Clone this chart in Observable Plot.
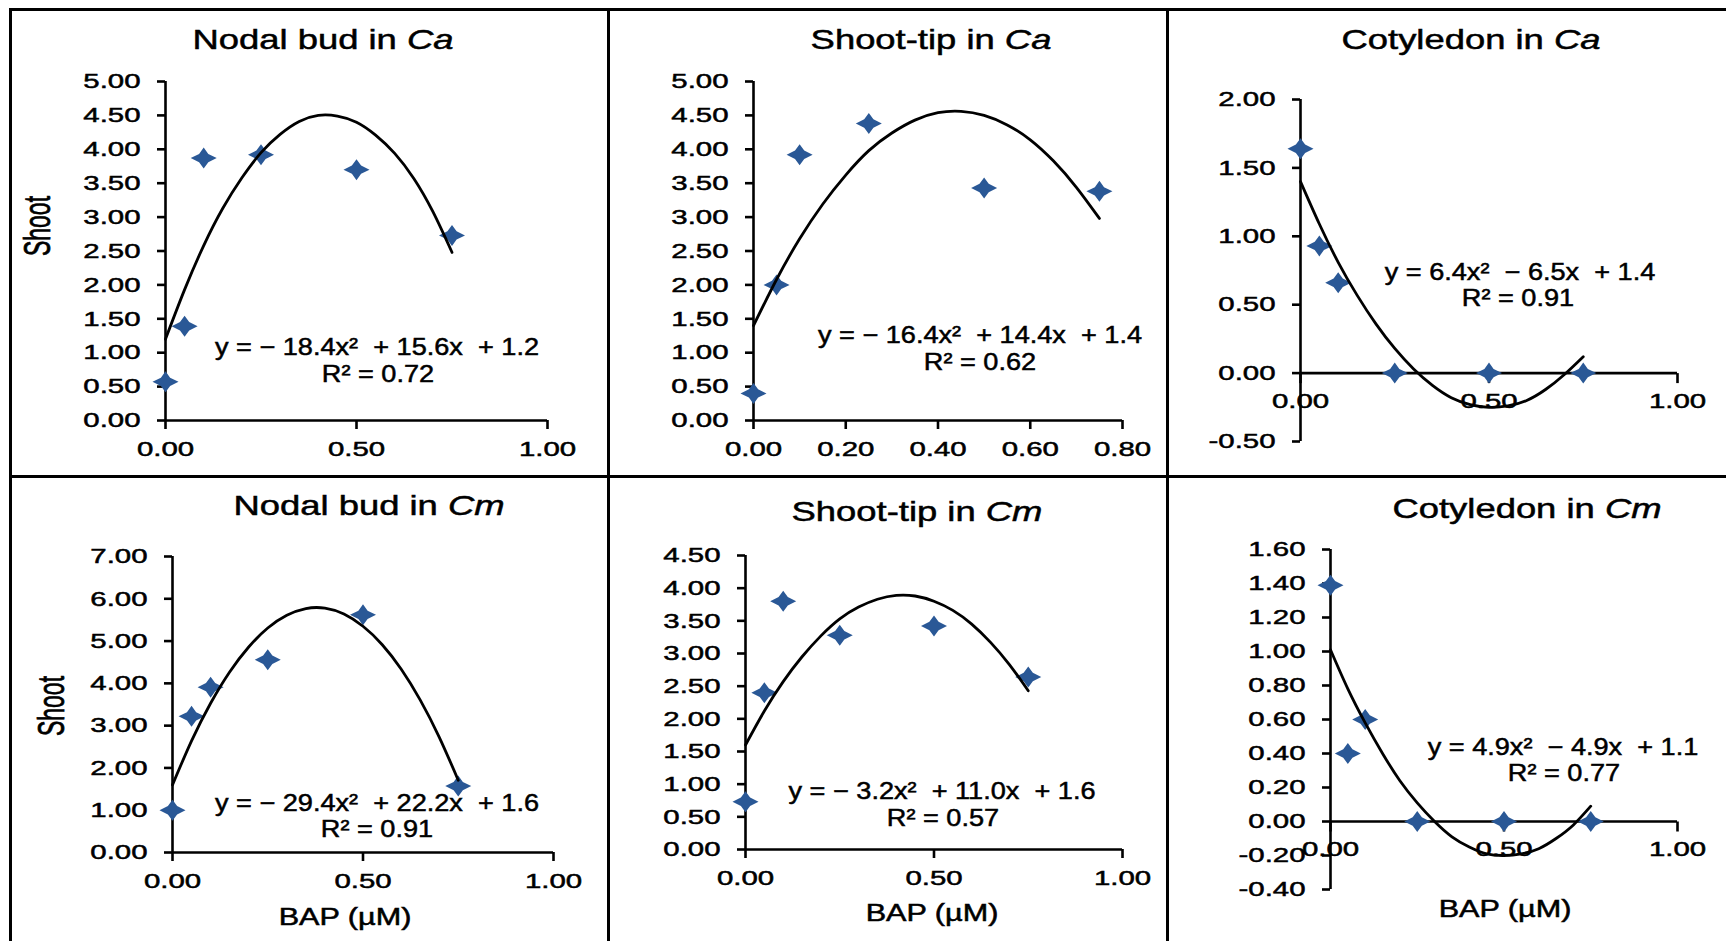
<!DOCTYPE html>
<html>
<head>
<meta charset="utf-8">
<script src="https://cdn.jsdelivr.net/npm/d3@7"></script>
<script src="https://cdn.jsdelivr.net/npm/@observablehq/plot@0.6"></script>
<style>
html, body { margin: 0; padding: 0; background: #fff; }
#root { position: relative; width: 1726px; height: 941px; overflow: hidden; background: #fff;
  font-family: "Liberation Sans", Arial, sans-serif; color: #000; }
.line { position: absolute; background: #000; }
.lbl { position: absolute; white-space: pre; line-height: 1; color: #000; -webkit-text-stroke: 0.5px #000; }
.panel { position: absolute; }
.panel svg { overflow: visible; }
.panel svg text { stroke: #000; stroke-width: 0.5px; paint-order: stroke; }
</style>
</head>
<body>
<div id="root"></div>
<script>
// ---------------- data ----------------
const bapLevels = [0, 0.05, 0.1, 0.25, 0.5, 0.75];

const nodalCa     = [0.57, 1.39, 3.87, 3.92, 3.70, 2.73];
const shootTipCa  = [0.40, 2.00, 3.92, 4.38, 3.43, 3.38];
const cotyledonCa = [1.64, 0.93, 0.66, 0.00, 0.00, 0.00];
const nodalCm     = [1.00, 3.22, 3.91, 4.56, 5.62, 1.57];
const shootTipCm  = [0.73, 2.40, 3.80, 3.28, 3.42, 2.64];
const cotyledonCm = [1.39, 0.40, 0.60, 0.00, 0.00, 0.00];

// trendline (polynomial, order 2)
const trendX = [0, 0.05, 0.1, 0.15, 0.2, 0.25, 0.3, 0.35, 0.4, 0.45, 0.5, 0.55, 0.6, 0.65, 0.7, 0.75];
const trendNodalCa     = [1.20, 1.93, 2.58, 3.13, 3.58, 3.95, 4.22, 4.41, 4.50, 4.49, 4.40, 4.21, 3.94, 3.57, 3.08, 2.48];
const trendShootTipCa  = [1.40, 2.08, 2.68, 3.19, 3.62, 3.98, 4.24, 4.43, 4.54, 4.56, 4.50, 4.36, 4.14, 3.83, 3.44, 2.98];
const trendCotyledonCa = [1.40, 1.09, 0.81, 0.57, 0.36, 0.18, 0.03, -0.09, -0.18, -0.23, -0.25, -0.24, -0.20, -0.12, -0.01, 0.12];
const trendNodalCm     = [1.60, 2.64, 3.53, 4.27, 4.86, 5.31, 5.61, 5.77, 5.78, 5.64, 5.35, 4.92, 4.34, 3.61, 2.73, 1.71];
const trendShootTipCm  = [1.60, 2.12, 2.57, 2.95, 3.27, 3.53, 3.71, 3.83, 3.89, 3.88, 3.80, 3.66, 3.45, 3.17, 2.83, 2.43];
const trendCotyledonCm = [1.01, 0.78, 0.58, 0.40, 0.24, 0.11, 0.00, -0.09, -0.15, -0.19, -0.20, -0.19, -0.16, -0.10, -0.02, 0.09];

// tick values
const xTicksUnit   = [0, 0.5, 1];
const xTicksTenths = [0, 0.2, 0.4, 0.6, 0.8];
const yTicksTo5    = [0, 0.5, 1, 1.5, 2, 2.5, 3, 3.5, 4, 4.5, 5];
const yTicksCotCa  = [-0.5, 0, 0.5, 1, 1.5, 2];
const yTicksTo7    = [0, 1, 2, 3, 4, 5, 6, 7];
const yTicksTo45   = [0, 0.5, 1, 1.5, 2, 2.5, 3, 3.5, 4, 4.5];
const yTicksCotCm  = [-0.4, -0.2, 0, 0.2, 0.4, 0.6, 0.8, 1, 1.2, 1.4, 1.6];

// texts
const explantNames = ["Nodal bud in ", "Shoot-tip in ", "Cotyledon in ", "Nodal bud in ", "Shoot-tip in ", "Cotyledon in "];
const speciesNames = ["Ca", "Ca", "Ca", "Cm", "Cm", "Cm"];
const equationTexts = [
  "y = − 18.4x²  + 15.6x  + 1.2",
  "y = − 16.4x²  + 14.4x  + 1.4",
  "y = 6.4x²  − 6.5x  + 1.4",
  "y = − 29.4x²  + 22.2x  + 1.6",
  "y = − 3.2x²  + 11.0x  + 1.6",
  "y = 4.9x²  − 4.9x  + 1.1"
];
const r2Texts = ["R² = 0.72", "R² = 0.62", "R² = 0.91", "R² = 0.91", "R² = 0.57", "R² = 0.77"];
const yAxisTitle = "Shoot";
const xAxisTitle = "BAP (µM)";

// ---------------- layout ----------------
const root = document.getElementById("root");
const FONT = '"Liberation Sans", Arial, sans-serif';
const MARKER = "#2a5896";
const TICK_STRETCH = 1.4;

function line(x, y, w, h) {
  const d = document.createElement("div");
  d.className = "line";
  Object.assign(d.style, {left: x + "px", top: y + "px", width: w + "px", height: h + "px"});
  root.appendChild(d);
}
function label(html, cx, cy, size, sx, rotate) {
  const d = document.createElement("div");
  d.className = "lbl";
  d.innerHTML = html;
  d.style.left = cx + "px";
  d.style.top = cy + "px";
  d.style.fontSize = size + "px";
  d.style.transform = rotate
    ? `translate(-50%,-50%) rotate(-90deg) scaleY(${sx})`
    : `translate(-50%,-50%) scaleX(${sx})`;
  root.appendChild(d);
}
function stretchTexts(svg, s) {
  svg.querySelectorAll("text").forEach(t => {
    const x = parseFloat(t.getAttribute("x")) || 0;
    const tr = t.getAttribute("transform") || "";
    t.setAttribute("transform", `${tr} translate(${x},0) scale(${s},1) translate(${-x},0)`);
  });
}

// marker: small four-pointed diamond star
const starSymbol = {
  draw(ctx) {
    ctx.moveTo(0, -10.5);
    ctx.lineTo(4.6, -4.2);
    ctx.lineTo(13, 0);
    ctx.lineTo(4.6, 4.2);
    ctx.lineTo(0, 10.5);
    ctx.lineTo(-4.6, 4.2);
    ctx.lineTo(-13, 0);
    ctx.lineTo(-4.6, -4.2);
    ctx.closePath();
  }
};
// short downward tick for an axis crossing at y = 0
const downTick = {
  draw(ctx) { ctx.moveTo(0, 0); ctx.lineTo(0, 10); }
};

const fmt = d3.format(".2f");
const fmtMinus = d => fmt(d).replace("−", "-");

const panels = [
  {cell: [12, 11, 595, 464], m: [70, 60, 55, 153], xd: [0, 1],   xt: xTicksUnit,   yd: [0, 5],     yt: yTicksTo5,   v: nodalCa,     tr: trendNodalCa,     cross: false,
   title: [323, 40], eq: [377, 347], r2: [378, 374], yTitle: [38, 226], xTitle: null},
  {cell: [610, 11, 556, 464], m: [70, 44, 55, 143], xd: [0, 0.8], xt: xTicksTenths, yd: [0, 5],     yt: yTicksTo5,   v: shootTipCa,  tr: trendShootTipCa,  cross: false,
   title: [931, 40], eq: [980, 335], r2: [980, 362], yTitle: null, xTitle: null},
  {cell: [1169, 11, 557, 464], m: [88, 49, 34, 131], xd: [0, 1],  xt: xTicksUnit,   yd: [-0.5, 2],  yt: yTicksCotCa, v: cotyledonCa, tr: trendCotyledonCa, cross: true,
   title: [1471, 40], eq: [1520, 272], r2: [1518, 298], yTitle: null, xTitle: null},
  {cell: [12, 478, 595, 463], m: [78, 54, 89, 160], xd: [0, 1],   xt: xTicksUnit,   yd: [0, 7],     yt: yTicksTo7,   v: nodalCm,     tr: trendNodalCm,     cross: false,
   title: [369, 506], eq: [377, 803], r2: [377, 829], yTitle: [52, 706], xTitle: [345, 917]},
  {cell: [610, 478, 556, 463], m: [77, 44, 92, 135], xd: [0, 1],  xt: xTicksUnit,   yd: [0, 4.5],   yt: yTicksTo45,  v: shootTipCm,  tr: trendShootTipCm,  cross: false,
   title: [917, 512], eq: [942, 791], r2: [943, 818], yTitle: null, xTitle: [932, 913]},
  {cell: [1169, 478, 557, 463], m: [71, 49, 52, 161], xd: [0, 1], xt: xTicksUnit,   yd: [-0.4, 1.6], yt: yTicksCotCm, v: cotyledonCm, tr: trendCotyledonCm, cross: true,
   title: [1527, 509], eq: [1563, 747], r2: [1564, 773], yTitle: null, xTitle: [1505, 909]}
];

panels.forEach((p, i) => {
  const [left, top, width, height] = p.cell;
  const [mT, mR, mB, mL] = p.m;
  const pts = bapLevels.map((x, k) => ({x, y: p.v[k]}));
  const trend = trendX.map((x, k) => ({x, y: p.tr[k]}));

  const marks = [
    Plot.ruleX([0], {stroke: "#000", strokeWidth: 2.6}),
    Plot.ruleY([0], {stroke: "#000", strokeWidth: 2.6}),
    Plot.axisY({ticks: p.yt, tickFormat: fmtMinus, tickSize: 8, tickPadding: 17, fontSize: 21,
      strokeWidth: 2.6, label: null, anchor: "left"})
  ];
  if (p.cross) {
    marks.push(
      Plot.dot(p.xt, {x: d => d, y: 0, symbol: downTick, stroke: "#000", strokeWidth: 2.6, fill: "none"}),
      Plot.text(p.xt, {x: d => d, y: 0, text: d => fmt(d), dy: 28, fontSize: 21, fill: "#000"})
    );
  } else {
    marks.push(
      Plot.axisX({ticks: p.xt, tickFormat: fmt, tickSize: 9, tickPadding: 12, fontSize: 21,
        strokeWidth: 2.6, label: null, anchor: "bottom"})
    );
  }
  marks.push(
    Plot.dot(pts, {x: "x", y: "y", symbol: starSymbol, fill: MARKER, stroke: "none"}),
    Plot.line(trend, {x: "x", y: "y", curve: "natural", stroke: "#000", strokeWidth: 2.8})
  );

  const chart = Plot.plot({
    width, height,
    marginTop: mT, marginRight: mR, marginBottom: mB, marginLeft: mL,
    x: {domain: p.xd, axis: p.cross ? null : undefined},
    y: {domain: p.yd},
    style: {background: "transparent", color: "#000", fontFamily: FONT, overflow: "visible"},
    marks
  });
  stretchTexts(chart, TICK_STRETCH);

  const holder = document.createElement("div");
  holder.className = "panel";
  Object.assign(holder.style, {left: left + "px", top: top + "px", width: width + "px", height: height + "px"});
  holder.appendChild(chart);
  root.appendChild(holder);

  label(`${explantNames[i]}<i>${speciesNames[i]}</i>`, p.title[0], p.title[1], 28, 1.3);
  label(equationTexts[i], p.eq[0], p.eq[1], 24, 1.13);
  label(r2Texts[i], p.r2[0], p.r2[1], 24, 1.13);
  if (p.yTitle) label(yAxisTitle, p.yTitle[0], p.yTitle[1], 23, 1.6, true);
  if (p.xTitle) label(xAxisTitle, p.xTitle[0], p.xTitle[1], 23, 1.33);
});

// panel frame lines
line(9, 8, 1717, 3);      // top
line(9, 8, 3, 933);       // left
line(9, 475, 1717, 3);    // middle horizontal
line(607, 8, 3, 933);     // divider 1
line(1166, 8, 3, 933);    // divider 2
</script>
</body>
</html>
